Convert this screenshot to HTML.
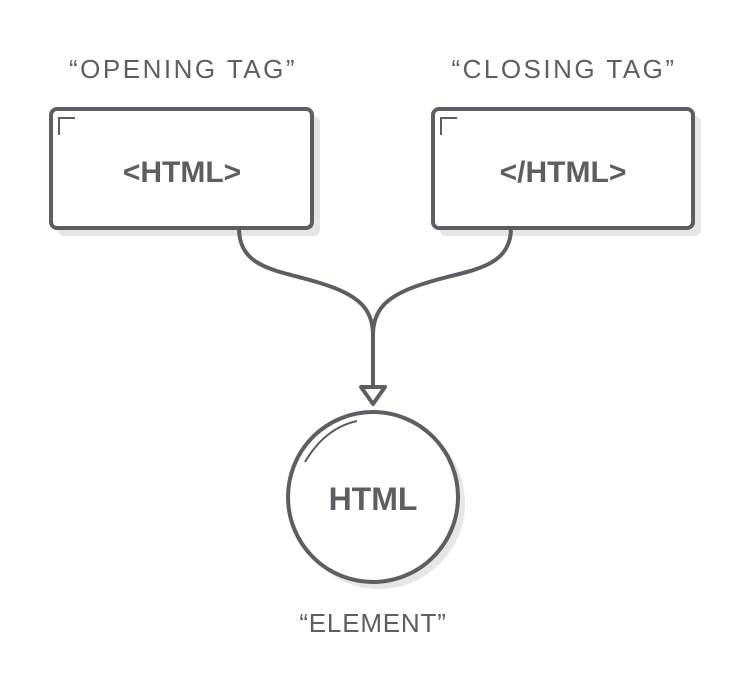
<!DOCTYPE html>
<html><head><style>
html,body{margin:0;padding:0;background:#fff;}
</style></head><body>
<svg width="754" height="688" viewBox="0 0 754 688" xmlns="http://www.w3.org/2000/svg">
<g fill="#e6e6e6">
<rect x="58" y="116" width="262" height="120" rx="6"/>
<rect x="440" y="116" width="261" height="120" rx="6"/>
<circle cx="379" cy="503" r="86"/>
</g>
<g stroke="#5b5f63" stroke-width="4" fill="#fff">
<rect x="51" y="109" width="261" height="119" rx="6"/>
<rect x="433" y="109" width="260" height="119" rx="6"/>
<circle cx="373" cy="497" r="85"/>
</g>
<g stroke="#5b5f63" stroke-width="2" fill="none">
<path d="M59 135 V118 H75"/>
<path d="M441 135 V118 H457"/>
<path d="M357 421 Q325 428 305 462"/>
</g>
<g stroke="#5b5f63" stroke-width="4" fill="none" stroke-linecap="round">
<path d="M239 228 C239 270 280 270 320 283 C360 295 373 310 373 335 V387"/>
<path d="M511 228 C511 270 466 270 426 283 C386 295 373 310 373 335"/>
<path d="M361 387 H385 L373 404 Z" fill="#fff" stroke-linejoin="round"/>
</g>
<g font-family="Liberation Sans, sans-serif" fill="#5b5f63" text-anchor="middle">
<text x="183" y="78" font-size="26" letter-spacing="2.5">“OPENING TAG”</text>
<text x="564" y="78" font-size="26" letter-spacing="2.5">“CLOSING TAG”</text>
<text x="373" y="632" font-size="26" letter-spacing="0.8">“ELEMENT”</text>
<text x="182" y="182" font-size="30" font-weight="bold">&lt;HTML&gt;</text>
<text x="563" y="182" font-size="30" font-weight="bold">&lt;/HTML&gt;</text>
<text x="373" y="510" font-size="32" font-weight="bold">HTML</text>
</g>
</svg>
</body></html>
